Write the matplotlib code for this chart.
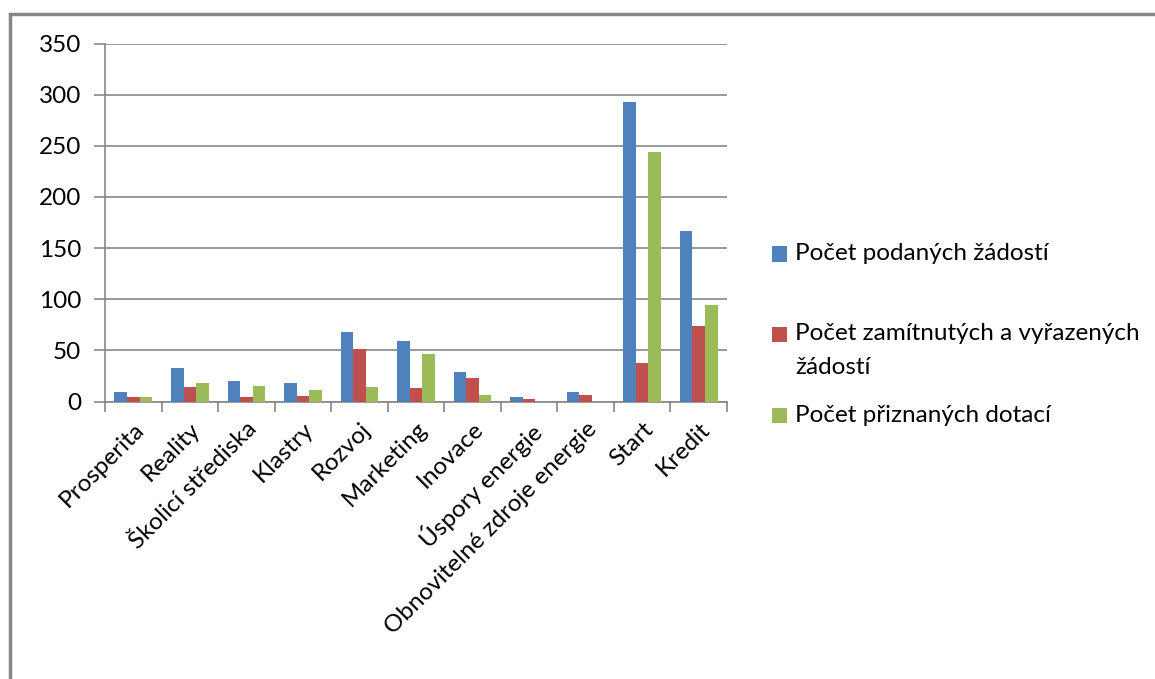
import matplotlib
matplotlib.use("Agg")
import matplotlib.pyplot as plt
from matplotlib.patches import Rectangle
import numpy as np

plt.rcParams['font.family'] = ['Lato', 'DejaVu Sans']

# data
kategorie = ['Prosperita', 'Reality', 'Školicí střediska', 'Klastry', 'Rozvoj', 'Marketing',
             'Inovace', 'Úspory energie', 'Obnovitelné zdroje energie', 'Start', 'Kredit']
podane = [9, 33, 20, 18, 68, 59, 29, 4, 9, 293, 167]
zamitnute = [4, 14, 4, 5, 51, 13, 23, 2, 6, 38, 74]
priznane = [4, 18, 15, 11, 14, 46, 6, 0, 0, 244, 94]
nazvy = ['Počet podaných žádostí', 'Počet zamítnutých a vyřazených\nžádostí', 'Počet přiznaných dotací']
barvy = ['#4F81BD', '#C0504D', '#9BBB59']

sedi = '#868686'
W, H = 1155, 679
fs = 17.5

fig = plt.figure(figsize=(W / 100, H / 100), dpi=100)
ax = fig.add_axes([105/W, 1 - 401.5/H, 622/W, 358/H])

x = np.arange(len(kategorie))
w = 0.222
for i, (vals, c) in enumerate(zip([podane, zamitnute, priznane], barvy)):
    ax.bar(x + (i - 1) * w, vals, width=w, color=c, zorder=3)

ax.set_xlim(-0.5, len(kategorie) - 0.5)
ax.set_ylim(0, 350)
ax.set_yticks(range(0, 351, 50))
ax.yaxis.grid(True, color=sedi, linewidth=1.2, zorder=0)
ax.set_axisbelow(True)

ax.set_xticks(x)
ax.set_xticklabels(kategorie, rotation=45, ha='right', rotation_mode='anchor', fontsize=fs)
ax.tick_params(axis='x', length=0, pad=12)
ax.set_xticks(np.arange(-0.5, len(kategorie), 1), minor=True)
ax.tick_params(axis='x', which='minor', length=7, color=sedi, width=1.2)
ax.tick_params(axis='y', length=8, color=sedi, width=1.2, labelsize=fs, pad=9)

for s in ['top', 'right']:
    ax.spines[s].set_visible(False)
for s in ['left', 'bottom']:
    ax.spines[s].set_color(sedi)
    ax.spines[s].set_linewidth(1.2)

# legend drawn by hand (Excel-like spacing)
leg_y = [254, 334, 415]
for c, n, yy in zip(barvy, nazvy, leg_y):
    fig.patches.append(Rectangle((772/W, 1 - (yy + 7.5)/H), 15/W, 15/H, transform=fig.transFigure,
                                 facecolor=c, edgecolor='none'))
    radky = n.split('\n')
    for k, r in enumerate(radky):
        fig.text(795/W, 1 - (yy + k * 33)/H, r, fontsize=fs, va='center', ha='left')

# outer chart frame
fig.patches.append(Rectangle((10/W, -0.1), 1.1, 1 - 14/H + 0.1, transform=fig.transFigure,
                             fill=False, edgecolor=sedi, linewidth=2.5))

fig.savefig('out.png', dpi=100)
